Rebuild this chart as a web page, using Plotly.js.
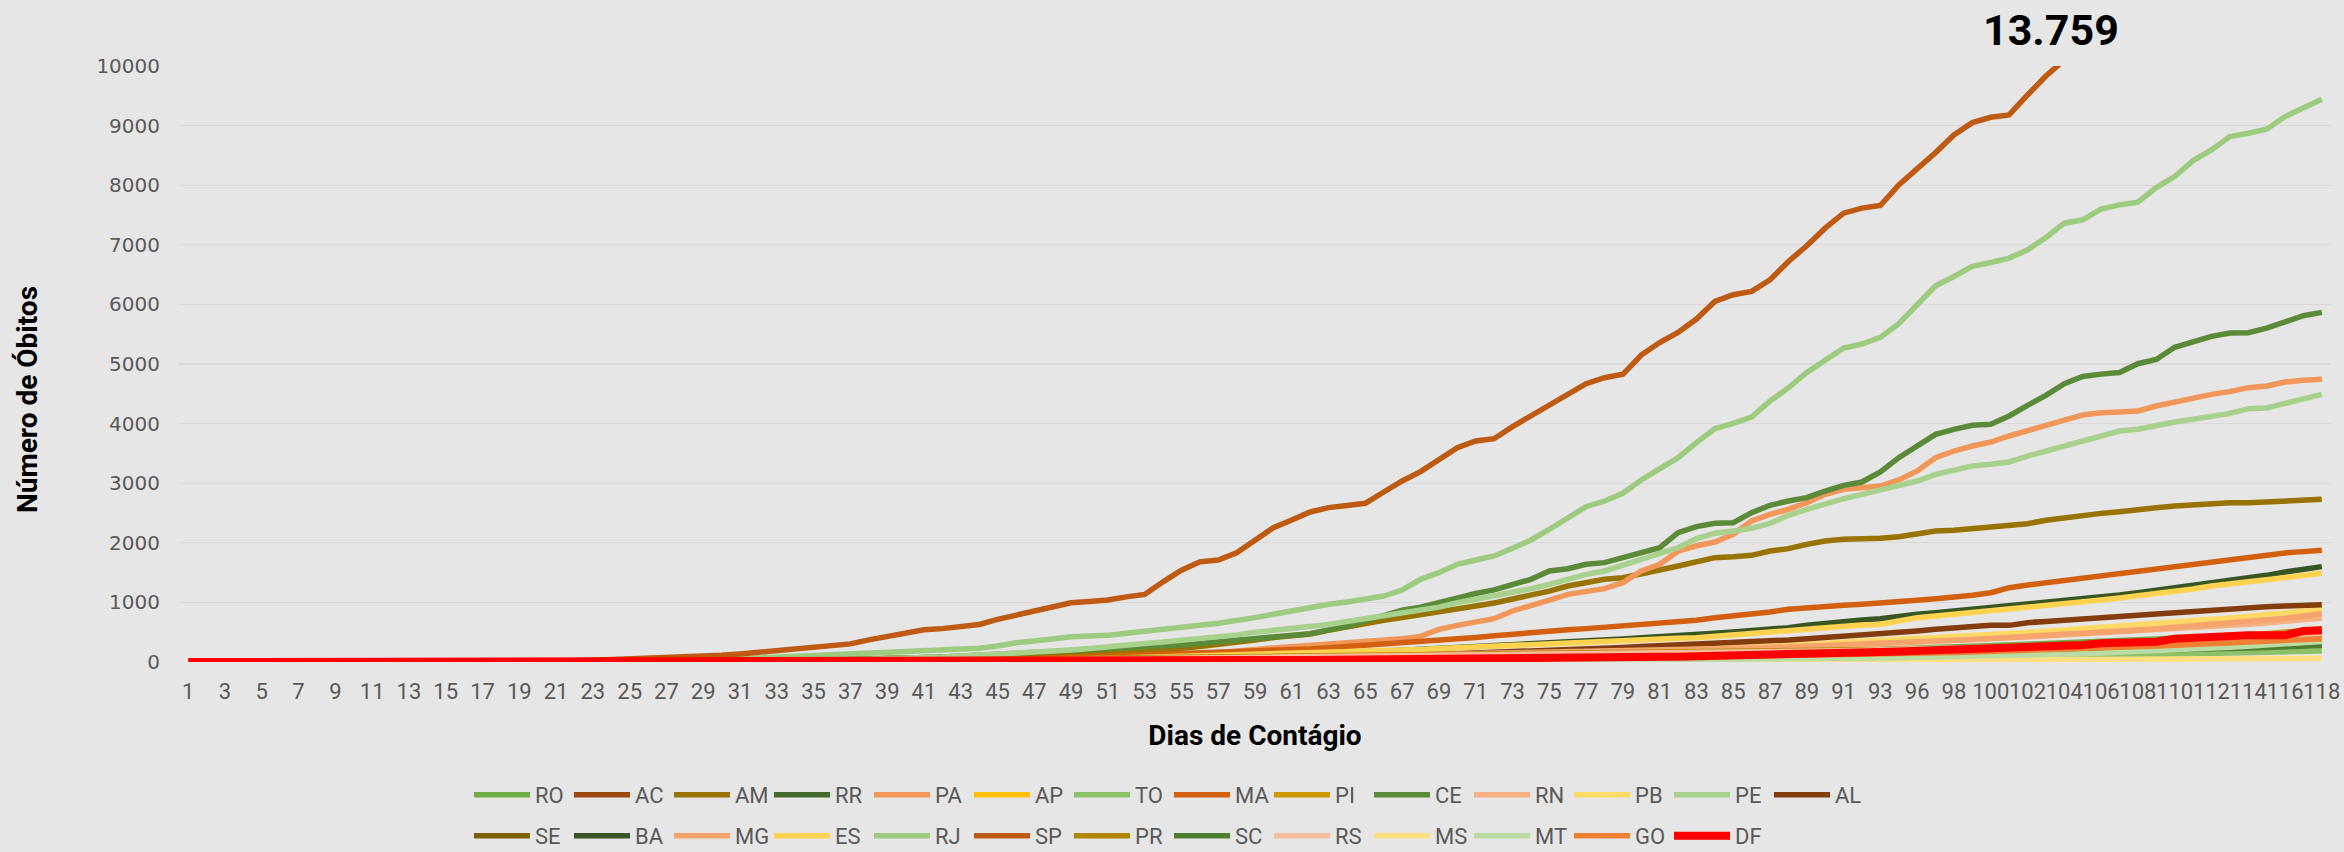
<!DOCTYPE html>
<html><head><meta charset="utf-8">
<script src="https://cdn.plot.ly/plotly-3.0.1.min.js"></script>
<style>html,body{margin:0;padding:0;background:#E7E6E6;}#chart{width:2344px;height:852px;}</style>
</head><body><div id="chart"></div>
<script>
const days = [1,2,3,4,5,6,7,8,9,10,11,12,13,14,15,16,17,18,19,20,21,22,23,24,25,26,27,28,29,30,31,32,33,34,35,36,37,38,39,40,41,42,43,44,45,46,47,48,49,50,51,52,53,54,55,56,57,58,59,60,61,62,63,64,65,66,67,68,69,70,71,72,73,74,75,76,77,78,79,80,81,82,83,84,85,86,87,88,89,90,91,92,93,95,96,97,98,99,100,101,102,103,104,105,106,107,108,109,110,111,112,113,114,115,116,117,118];

const RO = [0,0,0,0,0,0,0,0,0,0, 0,0,0,0,0,0,0,0,0,0, 0,0,0,0,0,0,0,0,0,0, 0,0,0,0,1,1,1,2,2,3, 3,4,4,5,6,7,8,9,10,12, 14,16,18,20,22,24,26,28,30,32, 34,36,39,42,45,48,52,56,60,64, 68,72,76,80,84,88,92,96,100,105, 110,116,122,128,135,142,150,158,166,175, 184,194,204,214,225,236,248,260,272,284, 297,310,323,336,349,362,375,388,401,414, 427,440,452,464,476,488,500];
const AC = [0,0,0,0,0,0,0,0,0,0, 0,0,0,0,0,0,0,0,0,0, 0,0,0,0,0,0,0,0,0,0, 0,0,0,0,0,0,0,0,1,1, 1,2,2,3,3,4,4,5,5,6, 7,8,9,10,11,12,13,14,15,16, 17,18,20,22,24,26,28,30,33,36, 39,42,46,50,54,58,62,66,70,75, 80,86,92,98,104,110,116,122,128,134, 140,146,152,158,164,170,176,182,188,194, 200,206,212,218,224,230,236,242,248,254, 258,262,266,270,274,278,282];
const AM = [0,0,0,0,0,0,0,0,0,0, 0,0,0,0,0,0,0,0,0,0, 0,0,0,0,0,1,3,3,6,7, 15,19,23,30,35,40,44,48,52,56, 60,70,80,92,105,118,130,140,148,155, 160,172,185,205,230,260,290,330,370,410, 440,470,530,590,650,700,745,790,830,885, 940,990,1050,1107,1190,1275,1331,1387,1415,1471, 1544,1611,1680,1751,1767,1790,1862,1902,1974,2030, 2058,2058,2075,2103,2142,2198,2209,2237,2254,2271, 2321,2377,2422,2461,2494,2522,2545,2589,2617,2640, 2657,2673,2673,2685,2696,2713,2729];
const RR = [0,0,0,0,0,0,0,0,0,0, 0,0,0,0,0,0,0,0,0,0, 0,0,0,0,0,0,0,0,0,0, 0,0,0,0,0,0,0,0,1,1, 1,2,2,3,3,4,4,5,5,6, 7,8,9,10,11,12,13,14,15,17, 19,21,23,25,28,31,34,37,40,44, 48,52,56,60,64,68,72,76,80,85, 90,95,100,105,110,116,122,128,134,140, 146,152,158,164,170,176,182,188,194,200, 206,212,218,224,230,236,242,248,254,260, 264,268,272,275,278,281,284];
const PA = [0,0,0,0,0,0,0,0,0,0, 0,0,0,0,0,0,0,0,0,0, 0,0,0,0,0,0,0,0,0,0, 0,0,0,1,1,2,3,4,6,8, 10,13,17,22,28,34,40,48,56,63, 70,78,86,95,110,125,160,185,210,235, 255,275,290,310,330,350,390,430,548,615, 671,727,856,940,1040,1135,1191,1230,1331,1527, 1639,1860,1950,2013,2142,2366,2478,2562,2673,2813, 2897,2925,2953,3054,3205,3428,3540,3624,3691,3792, 3887,3971,4060,4144,4183,4195,4211,4295,4362,4418, 4491,4536,4603,4631,4698,4726,4743];
const AP = [0,0,0,0,0,0,0,0,0,0, 0,0,0,0,0,0,0,0,0,0, 0,0,0,0,0,0,0,0,0,0, 0,0,0,0,0,0,0,1,1,1, 2,2,3,4,5,6,7,8,9,10, 11,12,13,14,16,18,20,22,24,26, 28,31,34,37,40,44,48,52,56,60, 64,68,72,76,80,85,90,95,100,106, 112,118,124,130,137,144,151,158,165,172, 179,186,193,200,207,214,221,228,235,242, 249,256,263,270,277,284,291,298,305,312, 318,322,326,328,330,332,335];
const TO = [0,0,0,0,0,0,0,0,0,0, 0,0,0,0,0,0,0,0,0,0, 0,0,0,0,0,0,0,0,0,0, 0,0,0,0,0,0,0,0,0,1, 1,1,1,2,2,2,3,3,3,4, 4,4,5,5,5,6,6,6,7,7, 7,8,8,9,9,10,10,11,12,13, 14,15,16,17,18,19,20,21,22,23, 24,26,28,30,32,34,36,38,40,43, 46,49,52,55,58,62,66,70,74,78, 82,87,92,97,102,108,114,120,127,134, 141,148,155,162,170,178,185];
const MA = [0,0,0,0,0,0,0,0,0,0, 0,0,0,0,0,0,0,0,0,0, 0,0,0,0,0,0,0,0,0,0, 0,1,1,2,3,4,5,7,9,11, 14,18,22,28,34,42,52,64,78,90, 100,105,112,122,135,148,160,170,178,185, 200,220,240,260,280,300,315,330,355,385, 410,440,470,500,520,540,560,580,600,625, 650,672,700,744,772,800,839,884,912,928, 951,968,984,1007,1035,1063,1085,1119,1163,1247, 1292,1331,1370,1409,1443,1477,1510,1555,1594,1639, 1678,1723,1767,1806,1830,1852,1874];
const PI = [0,0,0,0,0,0,0,0,0,0, 0,0,0,0,0,0,0,0,0,0, 0,0,0,0,0,0,0,0,0,0, 0,0,0,0,0,1,1,2,2,3, 4,5,6,7,8,9,10,12,14,16, 18,20,22,24,26,28,30,32,34,36, 38,40,42,44,46,48,50,53,56,59, 62,65,68,72,76,80,84,88,92,96, 100,105,110,115,120,126,132,138,145,152, 160,168,176,185,194,203,212,222,232,242, 252,263,275,288,302,317,333,350,368,388, 408,428,450,475,500,530,559];
const CE = [0,0,0,0,0,0,0,0,0,0, 0,0,0,0,0,0,0,0,0,0, 0,0,0,0,0,0,1,3,5,7, 9,12,15,20,24,29,36,43,52,60, 74,84,98,112,130,145,160,172,185,200, 215,230,245,262,285,310,340,370,400,430, 455,475,540,600,690,790,870,920,1000,1080, 1150,1210,1300,1387,1527,1566,1639,1667,1751,1846, 1918,2170,2271,2327,2338,2506,2629,2701,2757,2869, 2964,3020,3188,3428,3624,3820,3904,3971,3988,4128, 4306,4474,4670,4790,4830,4858,5005,5075,5280,5380, 5464,5520,5525,5603,5715,5810,5866];
const RN = [0,0,0,0,0,0,0,0,0,0, 0,0,0,0,0,0,0,0,0,0, 0,0,0,0,0,0,0,0,1,1, 2,2,3,4,5,6,8,10,12,14, 16,18,20,22,24,27,30,33,36,40, 43,46,49,52,55,58,61,64,67,70, 73,76,80,84,88,92,96,100,104,108, 112,116,120,125,130,136,142,148,155,162, 170,178,186,195,205,215,226,238,250,262, 275,288,302,316,330,345,360,375,390,405, 420,436,452,468,485,502,520,538,556,575, 594,614,634,655,678,705,740];
const PB = [0,0,0,0,0,0,0,0,0,0, 0,0,0,0,0,0,0,0,0,0, 0,0,0,0,0,0,0,0,0,0, 0,0,0,0,1,1,2,2,3,4, 5,6,8,10,12,14,17,20,24,28, 32,36,40,44,48,52,56,60,64,68, 72,76,80,85,90,95,100,106,112,118, 124,130,136,142,148,155,162,170,178,186, 195,205,215,228,240,252,265,280,295,310, 325,340,355,372,390,408,425,442,460,478, 496,515,535,556,578,600,622,645,668,692, 716,740,765,790,815,850,884];
const PE = [0,0,0,0,0,0,0,0,0,0, 0,0,0,0,0,0,0,0,0,0, 0,0,0,1,1,2,3,5,6,8, 10,12,15,19,22,30,36,46,56,65, 72,85,102,115,130,145,165,185,200,225, 260,285,310,335,360,390,420,455,500,530, 560,590,630,680,730,790,828,870,920,995, 1051,1107,1163,1230,1303,1387,1471,1527,1622,1723, 1823,1918,2070,2159,2198,2243,2327,2461,2562,2662, 2740,2813,2886,2953,3037,3149,3221,3289,3317,3356, 3456,3540,3641,3708,3803,3876,3904,3971,4027,4072, 4116,4172,4251,4262,4340,4418,4491];
const AL = [0,0,0,0,0,0,0,0,0,0, 0,0,0,0,0,0,0,0,0,0, 0,0,0,0,0,0,0,0,0,0, 0,0,0,0,0,0,1,1,1,2, 3,3,4,5,6,8,9,11,13,15, 18,20,23,26,30,34,38,42,46,50, 56,62,70,78,86,95,104,114,124,134, 145,155,165,178,190,200,215,230,245,258, 270,283,296,310,324,338,352,370,391,410, 436,450,464,490,520,548,576,604,615,615, 660,680,705,725,744,763,783,805,828,850, 872,892,912,926,940,948,962];
const SE = [0,0,0,0,0,0,0,0,0,0, 0,0,0,0,0,0,0,0,0,0, 0,0,0,0,0,0,0,0,0,0, 0,0,0,0,0,0,1,1,2,2, 3,3,4,4,5,5,6,6,7,8, 9,10,11,12,13,14,15,16,17,18, 19,20,21,22,23,24,25,27,29,31, 33,35,37,39,41,43,45,48,51,54, 57,61,65,70,75,80,86,92,99,106, 114,122,131,140,150,160,171,182,194,206, 219,232,246,260,275,290,306,322,339,356, 374,392,411,430,452,478,505];
const BA = [0,0,0,0,0,0,0,0,0,0, 0,0,0,0,0,0,0,0,0,0, 0,0,0,0,0,0,0,0,0,1, 1,2,2,3,4,5,7,9,11,13, 15,17,20,24,28,33,38,43,49,55, 60,66,72,78,83,88,94,100,108,116, 125,134,145,157,170,183,196,210,225,240, 257,272,290,305,320,335,352,370,388,405, 420,436,450,481,503,520,548,576,615,649, 671,705,727,772,800,828,856,884,906,940, 968,1007,1040,1063,1091,1124,1163,1202,1236,1275, 1314,1359,1398,1454,1510,1555,1600];
const MG = [0,0,0,0,0,0,0,0,0,0, 0,0,0,0,0,0,0,0,0,0, 0,0,0,0,0,0,0,1,1,2, 2,3,4,6,8,10,12,14,16,18, 20,22,25,28,31,35,38,42,46,50, 54,58,62,66,70,74,78,82,86,90, 94,98,102,106,110,115,120,125,130,135, 140,145,150,155,160,166,172,178,184,190, 196,203,210,218,226,235,244,254,264,275, 286,298,310,322,335,349,363,378,393,408, 424,440,457,475,494,514,535,557,580,604, 628,652,678,705,735,772,811];
const ES = [0,0,0,0,0,0,0,0,0,0, 0,0,0,0,0,0,0,0,0,0, 0,0,0,0,0,0,0,0,0,0, 0,0,1,1,2,3,4,5,6,8, 10,13,16,20,24,28,33,40,48,56, 64,72,80,88,96,104,110,116,122,128, 135,145,155,165,175,185,195,210,225,240, 255,270,285,300,315,330,345,355,365,375, 385,398,408,430,447,460,492,510,548,575, 604,620,632,690,744,770,800,820,839,875, 912,940,968,1005,1040,1075,1107,1140,1174,1225, 1275,1310,1342,1380,1415,1450,1488];
const RJ = [0,0,0,0,0,0,0,0,0,0, 0,0,0,0,0,0,0,0,0,1, 3,4,6,9,10,13,17,23,28,41, 47,58,71,89,106,122,140,155,170,182, 188,200,215,232,268,324,352,391,425,436, 447,481,520,548,576,615,649,688,744,800, 856,928,968,1007,1051,1107,1208,1387,1499,1639, 1711,1779,1907,2047,2226,2422,2606,2701,2830,3054, 3233,3428,3680,3915,4004,4111,4380,4600,4860,5073, 5268,5335,5447,5676,5994,6313,6469,6637,6704,6777, 6916,7123,7363,7419,7598,7670,7715,7961,8145,8413, 8592,8816,8872,8939,9151,9291,9441];
const SP = [0,0,0,0,0,0,0,0,0,0, 0,0,0,0,0,0,0,0,4,8, 15,22,30,40,48,58,68,84,98,113, 136,164,188,218,260,285,304,371,428,496, 540,560,600,630,716,790,870,935,995,1015, 1040,1093,1134,1345,1540,1680,1711,1834,2058,2254, 2383,2517,2590,2634,2662,2852,3037,3194,3400,3596, 3708,3747,3949,4128,4306,4491,4670,4770,4827,5150, 5360,5530,5754,6050,6162,6218,6413,6720,6983,7279, 7530,7615,7659,8006,8268,8547,8844,9050,9140,9179, 9514,9832,10100,10368,10581,10694,10767,10994,11132,11521, 11846,12232,12494,12588,13068,13352,13759];
const PR = [0,0,0,0,0,0,0,0,0,0, 0,0,0,0,0,0,0,0,0,0, 0,0,0,0,0,0,1,2,3,4, 5,7,9,11,14,17,20,23,26,29, 32,35,38,41,44,47,50,53,56,59, 62,65,68,71,74,77,80,83,86,89, 92,95,98,101,104,107,110,113,116,119, 122,125,128,131,134,137,140,143,146,149, 152,155,158,162,166,170,174,178,182,186, 190,195,200,205,210,215,220,226,232,238, 244,251,258,266,275,285,296,308,321,335, 350,366,383,400,418,437,458];
const SC = [0,0,0,0,0,0,0,0,0,0, 0,0,0,0,0,0,0,0,0,0, 0,0,0,0,0,0,0,1,1,2, 3,4,5,6,8,10,12,14,16,18, 20,22,24,26,28,30,32,34,36,38, 40,41,42,43,44,45,46,47,48,49, 50,51,52,53,55,57,59,61,63,65, 67,69,71,73,75,77,79,81,83,85, 87,89,91,93,95,97,100,103,106,109, 112,115,118,122,126,130,134,138,142,147, 152,157,162,168,174,180,187,194,201,209, 217,226,235,245,256,267,278];
const RS = [0,0,0,0,0,0,0,0,0,0, 0,0,0,0,0,0,0,0,0,0, 0,0,0,0,0,0,1,1,2,3, 4,5,6,7,8,10,12,14,16,18, 20,22,25,28,31,34,37,40,43,46, 49,52,55,58,61,64,67,70,73,76, 79,82,85,88,91,94,97,100,103,106, 109,112,115,118,122,126,130,134,138,142, 146,150,154,158,162,166,170,175,180,185, 190,196,202,208,214,220,226,233,240,247, 254,262,270,279,288,298,309,321,334,348, 363,378,394,410,426,442,458];
const MS = [0,0,0,0,0,0,0,0,0,0, 0,0,0,0,0,0,0,0,0,0, 0,0,0,0,0,0,0,0,0,0, 0,0,0,0,0,0,0,1,1,1, 2,2,3,3,4,4,5,5,6,6, 7,7,8,8,8,9,9,9,10,10, 10,10,11,11,11,12,12,12,13,13, 13,14,14,14,15,15,15,16,16,17, 17,18,18,19,19,20,20,21,22,23, 24,25,26,27,28,29,30,31,32,33, 34,35,36,38,40,42,44,46,48,50, 52,54,56,58,60,61,62];
const MT = [0,0,0,0,0,0,0,0,0,0, 0,0,0,0,0,0,0,0,0,0, 0,0,0,0,0,0,0,0,0,0, 0,0,0,0,0,0,1,1,2,2, 3,3,4,4,5,5,6,6,7,7, 8,8,9,9,10,10,11,11,12,12, 13,13,14,14,15,16,17,18,19,20, 21,22,23,24,25,26,27,28,29,30, 32,34,36,38,40,42,45,48,51,54, 58,62,66,70,75,80,86,92,99,106, 114,122,131,140,150,161,173,186,200,215, 231,248,266,285,305,325,345];
const GO = [0,0,0,0,0,0,0,0,0,0, 0,0,0,0,0,0,0,0,0,0, 0,0,0,0,0,0,0,0,1,1, 1,2,2,3,4,5,6,7,8,9, 10,11,12,13,14,15,16,17,18,19, 20,21,22,23,24,25,26,27,28,29, 30,31,32,33,34,36,38,40,42,44, 46,48,50,53,56,59,62,65,68,72, 76,80,84,88,92,96,100,105,110,115, 120,126,132,138,145,152,160,168,176,185, 194,203,213,223,234,245,257,269,282,295, 308,322,336,350,364,378,391];
const DF = [0,0,0,0,0,0,0,0,0,0, 0,0,0,0,0,0,0,0,0,0, 0,0,0,0,0,0,0,1,1,2, 3,4,5,6,7,8,9,10,11,12, 13,14,15,16,17,18,19,20,21,22, 23,24,25,26,27,28,29,30,31,32, 33,34,35,36,38,40,42,44,46,49, 52,55,58,61,64,67,70,74,78,82, 86,90,100,106,112,118,124,130,136,145, 152,160,168,176,184,192,201,208,216,224, 235,246,257,285,313,313,315,340,391,410, 430,447,448,449,450,520,531];

const stateNames = ['RO','AC','AM','RR','PA','AP','TO','MA','PI','CE','RN','PB','PE','AL',
                    'SE','BA','MG','ES','RJ','SP','PR','SC','RS','MS','MT','GO','DF'];
const stateValues = [RO,AC,AM,RR,PA,AP,TO,MA,PI,CE,RN,PB,PE,AL,SE,BA,MG,ES,RJ,SP,PR,SC,RS,MS,MT,GO,DF];
const spTotalLabel = '13.759';

const lineColors = ['#70AD47','#9E480E','#997300','#43682B','#F1975A','#FFC000','#8CC168','#D2600F','#CC9900','#5B8B38','#F5B183','#FFD966','#A9D18E','#843C0C',
                    '#7F6000','#375623','#F4A46C','#FFD24F','#9DCB7F','#BE5A11','#B38600','#4E7F30','#F7BE9B','#FFDF80','#B9DBA4','#EF7F32','#FF0000'];

stateValues.forEach((v,k)=>{ if(v.length!==days.length) throw new Error(stateNames[k]+' has '+v.length+' values, expected '+days.length); });

const cats = days.map(String);
const traces = stateNames.map((name,k)=>({
  type:'scatter', mode:'lines', name:name,
  x:cats, y:stateValues[k],
  line:{color:lineColors[k], width: name==='DF'?8:5.5},
  legend: k<14 ? 'legend' : 'legend2',
  hoverinfo:'skip'
}));

const L = 179, R = 2331, T = 66, B = 662;
const W = R-L, H = B-T;
const px = X => (X-L)/W;
const py = Y => (B-Y)/H;

const legendCommon = {
  orientation:'h', xanchor:'left', yanchor:'middle',
  entrywidth:29, entrywidthmode:'pixels', itemwidth:56,
  font:{family:'Roboto, sans-serif', size:22, color:'#595959'},
  bgcolor:'rgba(0,0,0,0)', borderwidth:0, traceorder:'normal', itemclick:false, itemdoubleclick:false
};

const layout = {
  width:2344, height:852,
  paper_bgcolor:'#E7E6E6', plot_bgcolor:'#E7E6E6',
  margin:{l:L, r:2344-R, t:T, b:852-B, pad:0, autoexpand:false},
  showlegend:true,
  xaxis:{type:'category', range:[-0.5, days.length-0.5], dtick:2, tick0:0,
    showgrid:false, zeroline:false, showline:false, ticks:'', automargin:false,
    ticklabelstandoff:14, tickangle:0,
    tickfont:{family:'Roboto, sans-serif', size:22, color:'#595959'},
    title:{text:'<b>Dias de Contágio</b>', standoff:22, font:{family:'Roboto, sans-serif', size:28, color:'#000000'}},
    fixedrange:true},
  yaxis:{range:[0,10000], dtick:1000, tick0:0, tickformat:'d', showgrid:true, gridcolor:'#D9D9D9', gridwidth:1.3,
    zeroline:false, showline:false, ticks:'', ticklabelstandoff:18, automargin:false,
    tickfont:{family:'DejaVu Sans, sans-serif', size:20, color:'#595959'}, fixedrange:true},
  legend: Object.assign({}, legendCommon, {x:px(469), y:py(795)}),
  legend2: Object.assign({}, legendCommon, {x:px(469), y:py(836)}),
  annotations:[
    {xref:'paper', yref:'paper', x:px(27), y:py(400), text:'<b>Número de Óbitos</b>', textangle:-90, showarrow:false,
     xanchor:'center', yanchor:'middle', font:{family:'Roboto, sans-serif', size:28, color:'#000000'}},
    {xref:'paper', yref:'paper', x:px(2051), y:py(30), text:'<b>'+spTotalLabel+'</b>', showarrow:false,
     xanchor:'center', yanchor:'middle', font:{family:'Roboto, sans-serif', size:43, color:'#000000'}}
  ]
};

Plotly.newPlot('chart', traces, layout, {displayModeBar:false, staticPlot:true});
</script>
</body></html>
